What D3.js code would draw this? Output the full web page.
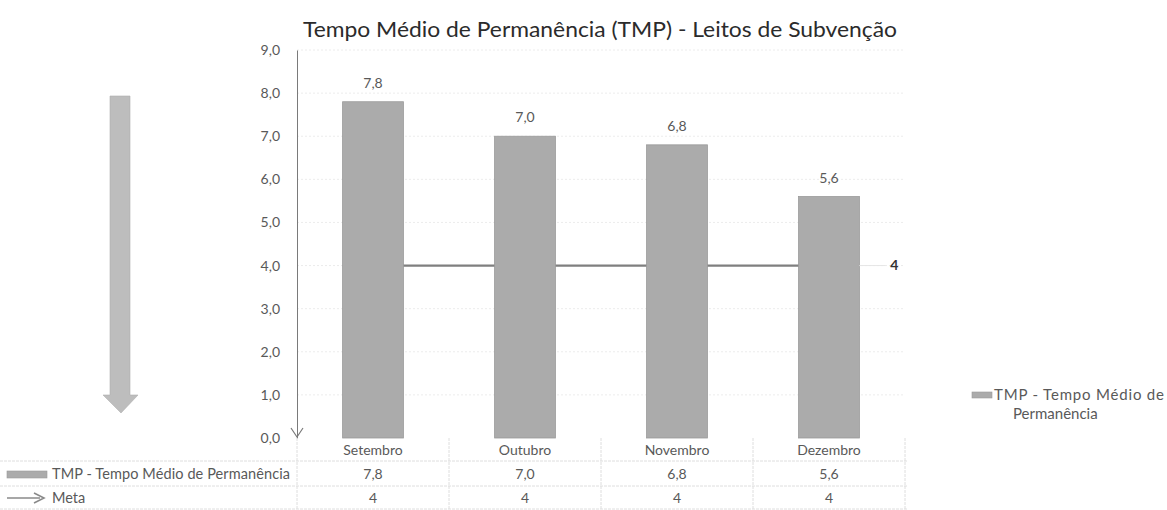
<!DOCTYPE html>
<html>
<head>
<meta charset="utf-8">
<script src="https://cdn.jsdelivr.net/npm/d3@7"></script>
<style>
  body { margin: 0; background: #fff; }
  svg { display: block; font-family: Lato, "Open Sans", sans-serif; }
</style>
</head>
<body>
<svg id="chart" width="1167" height="510"></svg>
<script>
// data
const categories = ["Setembro", "Outubro", "Novembro", "Dezembro"];
const tmpValues = [7.8, 7.0, 6.8, 5.6];
const metaValues = [4, 4, 4, 4];
const yTickValues = [0, 1, 2, 3, 4, 5, 6, 7, 8, 9];
const title = "Tempo Médio de Permanência (TMP) - Leitos de Subvenção";
const seriesName = "TMP - Tempo Médio de Permanência";
const metaName = "Meta";

// pt-BR number format (comma decimal)
const locale = d3.formatLocale({ decimal: ",", thousands: ".", grouping: [3], currency: ["R$", ""] });
const f1 = locale.format(".1f");

const svg = d3.select("#chart");
const plotLeft = 297, plotRight = 905, plotTop = 50, plotBottom = 438;

const x = d3.scaleBand().domain(categories).range([plotLeft, plotRight])
  .paddingInner(0.6).paddingOuter(0.3);
const step = x.step();
const y = d3.scaleLinear().domain([0, 9]).range([plotBottom, plotTop]);

const barFill = "#ababab", barStroke = "#9a9a9a";
const textGray = "#595959";

// title
svg.append("text")
  .attr("x", 600).attr("y", 37)
  .attr("text-anchor", "middle")
  .attr("font-size", 21)
  .attr("fill", "#2b2b2b")
  .attr("textLength", 594)
  .attr("lengthAdjust", "spacingAndGlyphs")
  .text(title);

// faint gridlines
svg.append("g")
  .selectAll("line")
  .data(yTickValues.filter(d => d > 0))
  .join("line")
  .attr("x1", plotLeft).attr("x2", plotRight)
  .attr("y1", d => y(d)).attr("y2", d => y(d))
  .attr("stroke", "#ececec")
  .attr("stroke-dasharray", "2,2");

// y axis with arrow at bottom
const yAxis = svg.append("g")
  .attr("transform", `translate(${plotLeft},0)`)
  .call(d3.axisLeft(y).tickValues(yTickValues).tickFormat(f1).tickSize(0).tickPadding(17));
yAxis.select(".domain").attr("stroke", "#7a7a7a");
yAxis.selectAll("text").attr("font-size", 14).attr("fill", textGray)
  .attr("font-family", "Lato, sans-serif");
yAxis.append("path")
  .attr("d", `M-6,${plotBottom - 10} L0,${plotBottom - 1} L6,${plotBottom - 10}`)
  .attr("fill", "none").attr("stroke", "#7a7a7a").attr("stroke-width", 1.2);

// meta line (behind bars)
const metaLine = d3.line()
  .x((d, i) => x(categories[i]) + x.bandwidth() / 2)
  .y(d => y(d));
svg.append("path")
  .datum(metaValues)
  .attr("d", metaLine)
  .attr("fill", "none")
  .attr("stroke", "#7f7f7f")
  .attr("stroke-width", 2.2);

// bars
svg.append("g")
  .selectAll("rect")
  .data(tmpValues)
  .join("rect")
  .attr("x", (d, i) => x(categories[i]))
  .attr("y", d => y(d))
  .attr("width", x.bandwidth())
  .attr("height", d => y(0) - y(d))
  .attr("fill", barFill)
  .attr("stroke", barStroke)
  .attr("stroke-width", 0.8);

// bar labels
svg.append("g")
  .selectAll("text")
  .data(tmpValues)
  .join("text")
  .attr("x", (d, i) => x(categories[i]) + x.bandwidth() / 2)
  .attr("y", d => y(d) - 14)
  .attr("text-anchor", "middle")
  .attr("font-size", 14)
  .attr("fill", textGray)
  .text(d => f1(d));

// meta label at the last point
const lastI = metaValues.length - 1;
const lastX = x(categories[lastI]) + x.bandwidth();
svg.append("line")
  .attr("x1", lastX).attr("x2", lastX + 26)
  .attr("y1", y(metaValues[lastI])).attr("y2", y(metaValues[lastI]))
  .attr("stroke", "#e6e6e6");
svg.append("text")
  .attr("x", lastX + 35).attr("y", y(metaValues[lastI]))
  .attr("dy", "0.35em")
  .attr("text-anchor", "middle")
  .attr("font-size", 14)
  .attr("font-weight", "bold")
  .attr("fill", "#333")
  .text(metaValues[lastI]);

// big decorative down arrow on the left
svg.append("path")
  .attr("d", "M110,96 L130,96 L130,395 L138,395 L121,413 L103,395 L110,395 Z")
  .attr("fill", "#bdbdbd")
  .attr("stroke", "#b0b0b0")
  .attr("stroke-width", 0.6);

// data table
const rowY = [438, 461, 486, 509];
const table = svg.append("g");
const gridColor = "#dedede";
// horizontal lines
table.selectAll("line.h")
  .data(rowY.slice(1))
  .join("line")
  .attr("class", "h")
  .attr("x1", 0).attr("x2", plotRight + 3)
  .attr("y1", d => d).attr("y2", d => d)
  .attr("stroke", gridColor).attr("stroke-dasharray", "3,1");
// vertical lines at column borders
const colEdges = categories.map(c => x(c) - (step - x.bandwidth()) / 2).concat([plotRight]);
table.selectAll("line.v")
  .data(colEdges)
  .join("line")
  .attr("class", "v")
  .attr("x1", d => d).attr("x2", d => d)
  .attr("y1", plotBottom).attr("y2", 510)
  .attr("stroke", gridColor).attr("stroke-dasharray", "3,1");

// category labels
table.selectAll("text.cat")
  .data(categories)
  .join("text")
  .attr("class", "cat")
  .attr("x", d => x(d) + x.bandwidth() / 2)
  .attr("y", 450).attr("dy", "0.35em")
  .attr("text-anchor", "middle")
  .attr("font-size", 14)
  .attr("fill", textGray)
  .text(d => d);

// value rows
table.selectAll("text.tmp")
  .data(tmpValues)
  .join("text")
  .attr("class", "tmp")
  .attr("x", (d, i) => x(categories[i]) + x.bandwidth() / 2)
  .attr("y", 474).attr("dy", "0.35em")
  .attr("text-anchor", "middle")
  .attr("font-size", 14)
  .attr("fill", textGray)
  .text(d => f1(d));
table.selectAll("text.meta")
  .data(metaValues)
  .join("text")
  .attr("class", "meta")
  .attr("x", (d, i) => x(categories[i]) + x.bandwidth() / 2)
  .attr("y", 498).attr("dy", "0.35em")
  .attr("text-anchor", "middle")
  .attr("font-size", 14)
  .attr("fill", textGray)
  .text(d => d);

// row headers
table.append("rect")
  .attr("x", 7).attr("y", 471).attr("width", 40).attr("height", 7)
  .attr("fill", barFill).attr("stroke", barStroke).attr("stroke-width", 0.6);
table.append("text")
  .attr("x", 52).attr("y", 474).attr("dy", "0.35em")
  .attr("font-size", 14.5).attr("fill", textGray)
  .attr("textLength", 238)
  .text(seriesName);
table.append("path")
  .attr("d", "M7,498 L40,498 M34,493 L44,498 L34,503")
  .attr("fill", "none").attr("stroke", "#8a8a8a").attr("stroke-width", 1.6);
table.append("text")
  .attr("x", 52).attr("y", 498).attr("dy", "0.35em")
  .attr("font-size", 14.5).attr("fill", textGray)
  .text(metaName);

// right legend
const legend = svg.append("g").attr("transform", "translate(972,395)");
legend.append("rect")
  .attr("x", 0).attr("y", -3).attr("width", 20).attr("height", 6)
  .attr("fill", barFill).attr("stroke", barStroke).attr("stroke-width", 0.6);
legend.append("text")
  .attr("x", 22).attr("y", 0).attr("dy", "0.35em")
  .attr("font-size", 15).attr("fill", textGray)
  .attr("textLength", 170)
  .text("TMP - Tempo Médio de");
legend.append("text")
  .attr("x", 41).attr("y", 19).attr("dy", "0.35em")
  .attr("font-size", 15).attr("fill", textGray)
  .text("Permanência");
</script>
</body>
</html>
